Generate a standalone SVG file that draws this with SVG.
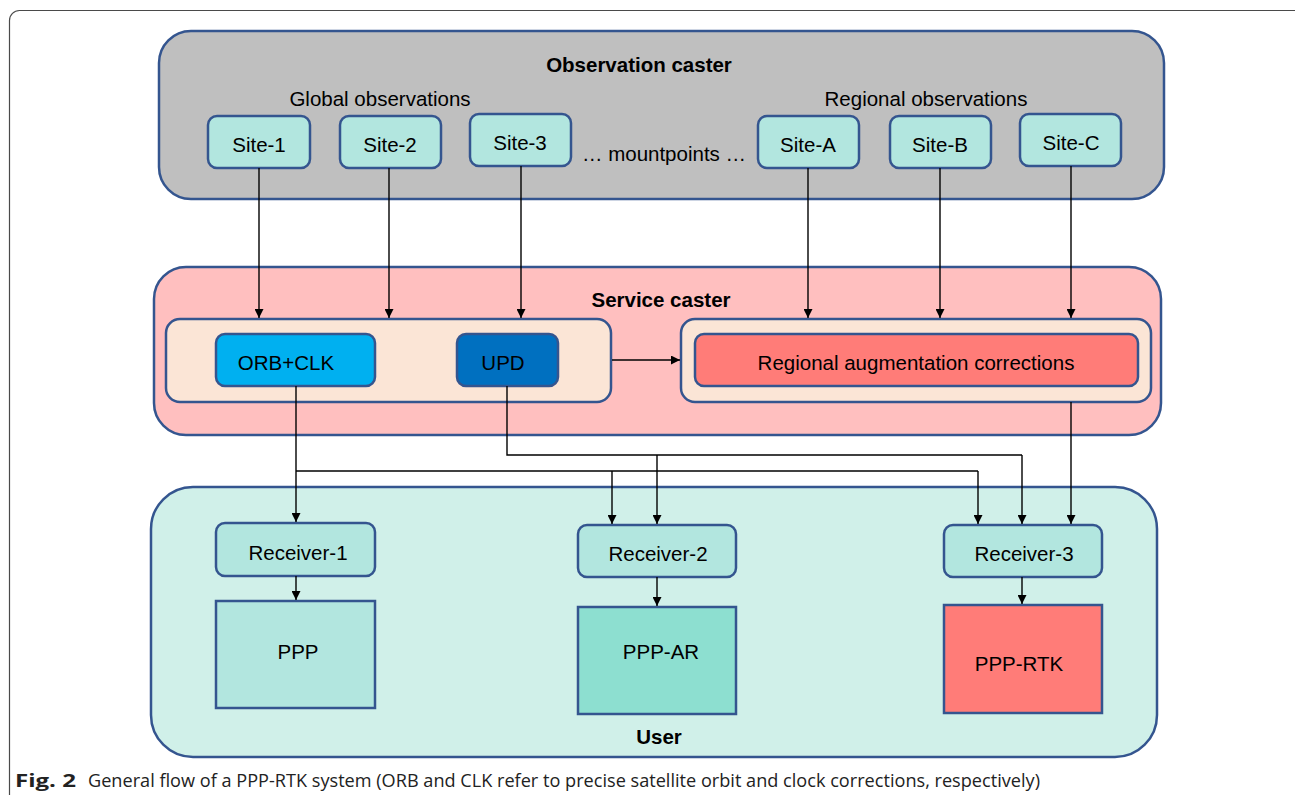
<svg xmlns="http://www.w3.org/2000/svg" width="1295" height="795" viewBox="0 0 1295 795">
  <defs>
    <marker id="arrow" viewBox="0 0 10 10" refX="10" refY="5" markerWidth="9" markerHeight="9" markerUnits="userSpaceOnUse" orient="auto">
      <path d="M0,0 L10,5 L0,10 z" fill="#000"/>
    </marker>
    <style>
      .frame { fill: #ffffff; stroke: #4a4a4a; stroke-width: 1.2; }
      .panel { stroke: #34558f; stroke-width: 2.5; }
      .box { stroke: #34558f; stroke-width: 2.5; }
      .lbl { font-family: "Liberation Sans", Arial, sans-serif; font-size: 20.5px; fill: #000; text-anchor: middle; }
      .ttl { font-family: "Liberation Sans", Arial, sans-serif; font-size: 20.5px; font-weight: bold; fill: #000; text-anchor: middle; }
      .link { fill: none; stroke: #000; stroke-width: 1.4; }
      .arr { fill: none; stroke: #000; stroke-width: 1.4; marker-end: url(#arrow); }
      .cap { font-family: "Open Sans", "Noto Sans", sans-serif; font-size: 18px; fill: #222; }
    </style>
  </defs>

  <!-- figure frame -->
  <rect class="frame" x="9.5" y="10.5" width="1300" height="800" rx="10"/>

  <!-- observation caster -->
  <g id="observation-caster">
    <rect class="panel" x="159" y="31" width="1005" height="168" rx="32" fill="#bfbfbf"/>
    <text class="ttl" x="639" y="72">Observation caster</text>
    <text class="lbl" x="380" y="106">Global observations</text>
    <text class="lbl" x="926" y="106">Regional observations</text>
    <text class="lbl" x="664" y="161">… mountpoints …</text>
  </g>
  <g id="site-1"><rect class="box" x="208" y="116" width="102" height="52" rx="9" fill="#b2e6df"/><text class="lbl" x="259" y="152">Site-1</text></g>
  <g id="site-2"><rect class="box" x="340" y="116" width="101" height="52" rx="9" fill="#b2e6df"/><text class="lbl" x="390" y="152">Site-2</text></g>
  <g id="site-3"><rect class="box" x="470" y="114" width="101" height="52" rx="9" fill="#b2e6df"/><text class="lbl" x="520" y="150">Site-3</text></g>
  <g id="site-a"><rect class="box" x="758" y="116" width="101" height="52" rx="9" fill="#b2e6df"/><text class="lbl" x="808" y="152">Site-A</text></g>
  <g id="site-b"><rect class="box" x="890" y="116" width="101" height="52" rx="9" fill="#b2e6df"/><text class="lbl" x="940" y="152">Site-B</text></g>
  <g id="site-c"><rect class="box" x="1020" y="114" width="101" height="52" rx="9" fill="#b2e6df"/><text class="lbl" x="1071" y="150">Site-C</text></g>

  <!-- service caster -->
  <g id="service-caster">
    <rect class="panel" x="154" y="267" width="1007" height="168" rx="32" fill="#ffbfbf"/>
    <text class="ttl" x="661" y="307">Service caster</text>
  </g>
  <g id="global-products"><rect class="box" x="166" y="319" width="445" height="83" rx="14" fill="#fbe5d6"/></g>
  <g id="orb-clk"><rect class="box" x="216" y="334" width="159" height="52" rx="9" fill="#00b0f0"/><text class="lbl" x="286" y="370">ORB+CLK</text></g>
  <g id="upd"><rect class="box" x="457" y="334" width="101" height="52" rx="9" fill="#0070c0"/><text class="lbl" x="503" y="370">UPD</text></g>
  <g id="regional-products"><rect class="box" x="681" y="319" width="470" height="83" rx="14" fill="#fbe5d6"/></g>
  <g id="regional-corrections"><rect class="box" x="695" y="334" width="443" height="52" rx="9" fill="#ff7c78"/><text class="lbl" x="916" y="370">Regional augmentation corrections</text></g>

  <!-- user -->
  <g id="user">
    <rect class="panel" x="151" y="487" width="1006" height="270" rx="42" fill="#d0f0e9"/>
    <text class="ttl" x="659" y="744">User</text>
  </g>
  <g id="receiver-1"><rect class="box" x="216" y="523" width="159" height="53" rx="9" fill="#b2e6df"/><text class="lbl" x="298" y="560">Receiver-1</text></g>
  <g id="receiver-2"><rect class="box" x="578" y="525" width="158" height="52" rx="9" fill="#b2e6df"/><text class="lbl" x="658" y="561">Receiver-2</text></g>
  <g id="receiver-3"><rect class="box" x="944" y="525" width="158" height="52" rx="9" fill="#b2e6df"/><text class="lbl" x="1024" y="561">Receiver-3</text></g>
  <g id="ppp"><rect class="box" x="216" y="601" width="159" height="107" fill="#b2e6df"/><text class="lbl" x="298" y="659">PPP</text></g>
  <g id="ppp-ar"><rect class="box" x="578" y="607" width="158" height="107" fill="#8ddfd0"/><text class="lbl" x="661" y="659">PPP-AR</text></g>
  <g id="ppp-rtk"><rect class="box" x="944" y="605" width="158" height="108" fill="#ff7c78"/><text class="lbl" x="1019" y="671">PPP-RTK</text></g>

  <!-- connectors -->
  <g id="connectors">
    <!-- sites to service caster -->
    <line class="arr" x1="259" y1="168" x2="259" y2="318"/>
    <line class="arr" x1="389" y1="168" x2="389" y2="318"/>
    <line class="arr" x1="521" y1="166" x2="521" y2="318"/>
    <line class="arr" x1="808" y1="168" x2="808" y2="318"/>
    <line class="arr" x1="940" y1="168" x2="940" y2="318"/>
    <line class="arr" x1="1071" y1="166" x2="1071" y2="318"/>
    <!-- global products to regional products -->
    <line class="arr" x1="612" y1="360" x2="680" y2="360"/>
    <!-- ORB+CLK distribution -->
    <line class="arr" x1="296" y1="386" x2="296" y2="522"/>
    <polyline class="link" points="296,471 978,471"/>
    <line class="arr" x1="612" y1="471" x2="612" y2="524"/>
    <line class="arr" x1="978" y1="471" x2="978" y2="524"/>
    <!-- UPD distribution -->
    <polyline class="link" points="507,386 507,455 1022,455"/>
    <line class="arr" x1="657" y1="455" x2="657" y2="524"/>
    <line class="arr" x1="1022" y1="455" x2="1022" y2="524"/>
    <!-- regional corrections to receiver-3 -->
    <line class="arr" x1="1071" y1="402" x2="1071" y2="524"/>
    <!-- receivers to solutions -->
    <line class="arr" x1="296" y1="576" x2="296" y2="600"/>
    <line class="arr" x1="657" y1="577" x2="657" y2="606"/>
    <line class="arr" x1="1022" y1="577" x2="1022" y2="604"/>
  </g>

  <!-- caption -->
  <text class="cap" x="15" y="787" font-weight="bold" textLength="61" lengthAdjust="spacingAndGlyphs">Fig. 2</text>
  <text class="cap" x="88" y="787" textLength="952" lengthAdjust="spacingAndGlyphs">General flow of a PPP-RTK system (ORB and CLK refer to precise satellite orbit and clock corrections, respectively)</text>
</svg>
